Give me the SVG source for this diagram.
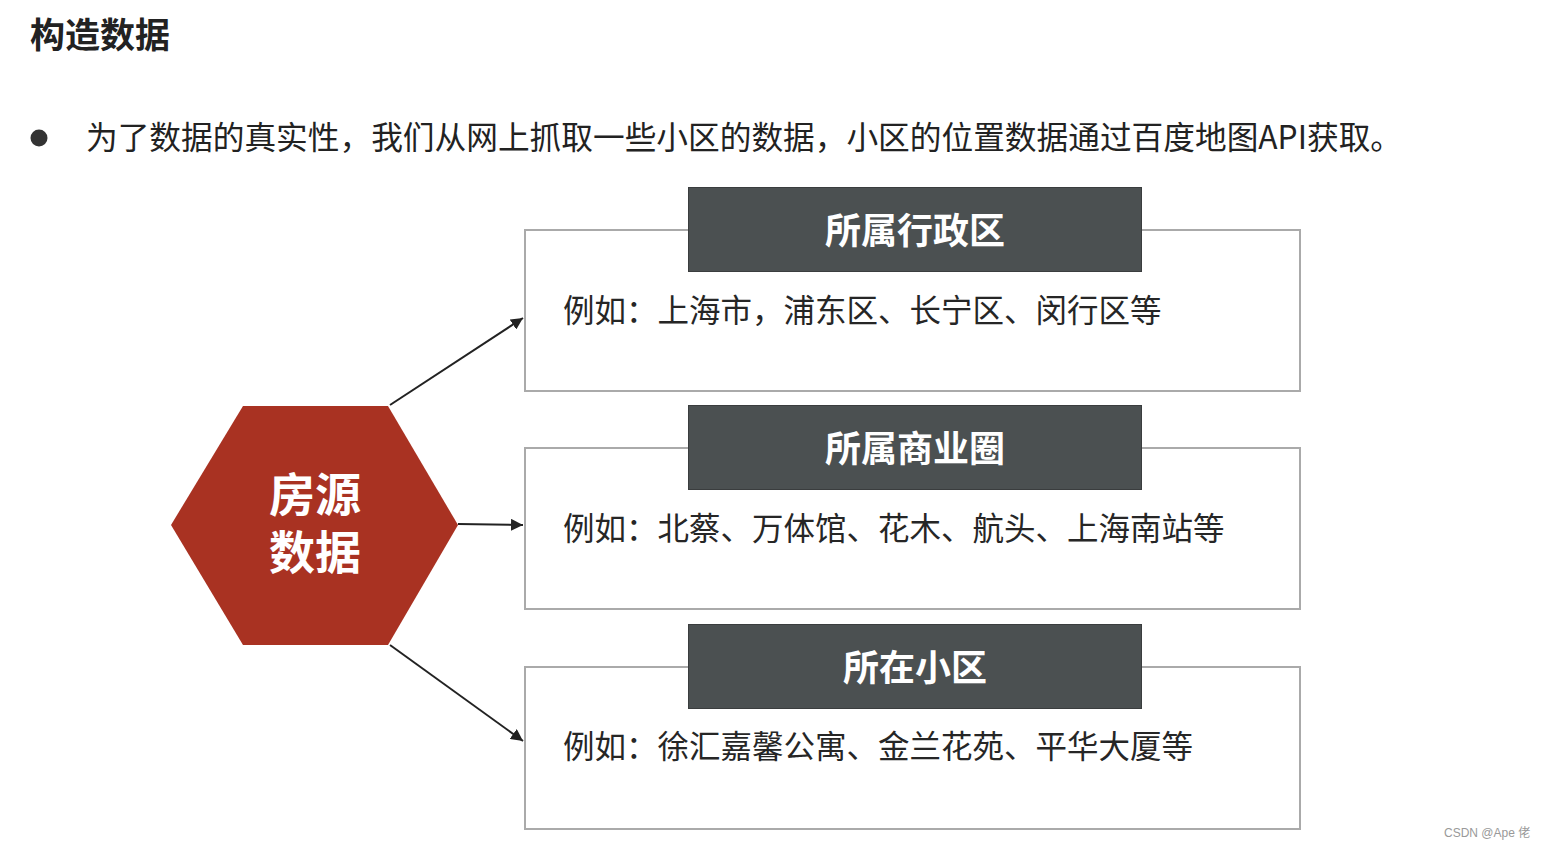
<svg xmlns="http://www.w3.org/2000/svg" width="1545" height="849" viewBox="0 0 1545 849">
<style>
.cjk{font-family:"Noto Sans CJK SC","Noto Sans",sans-serif}
.title{font-size:35px;font-weight:bold;fill:#222}
.bullet{font-size:32px;fill:#222}
.box{fill:#fff;stroke:#aaaaaa;stroke-width:2}
.hdr{fill:#4b5051;stroke:#3a3d3e;stroke-width:1}
.hdrt{font-size:36px;font-weight:bold;fill:#fff;text-anchor:middle}
.body{font-size:31.5px;fill:#262626}
.hext{font-size:46px;font-weight:bold;fill:#fff;text-anchor:middle}
.conn{stroke:#222;stroke-width:2;fill:none;marker-end:url(#arr)}
</style>
<defs>
<marker id="arr" viewBox="0 0 10 10" refX="10" refY="5" markerWidth="6" markerHeight="6" orient="auto" markerUnits="strokeWidth">
<path d="M0,0 L10,5 L0,10 z" fill="#222"/>
</marker>
</defs>
<rect width="1545" height="849" fill="#fff"/>
<g id="heading">
<text class="cjk title" x="30" y="48">构造数据</text>
<circle cx="39" cy="138" r="8.5" fill="#333"/>
<text class="cjk bullet" x="86" y="149" textLength="1316" lengthAdjust="spacingAndGlyphs">为了数据的真实性，我们从网上抓取一些小区的数据，小区的位置数据通过百度地图API获取。</text>
</g>
<g id="connectors">
<line class="conn" x1="390" y1="405" x2="523" y2="318"/>
<line class="conn" x1="458" y1="524" x2="523" y2="525"/>
<line class="conn" x1="390" y1="645" x2="523" y2="741"/>
</g>
<g id="hex">
<polygon points="243,406 388,406 458,525 388,645 243,645 171,525" fill="#a93222"/>
<text class="cjk hext" x="315" y="511">房源<tspan x="315" dy="58">数据</tspan></text>
</g>
<g id="district">
<rect class="box" x="525" y="230" width="775" height="161"/>
<rect class="hdr" x="688.5" y="187.5" width="453" height="84"/>
<text class="cjk hdrt" x="915" y="244">所属行政区</text>
<text class="cjk body" x="563" y="322">例如：上海市，浦东区、长宁区、闵行区等</text>
</g>
<g id="business">
<rect class="box" x="525" y="448" width="775" height="161"/>
<rect class="hdr" x="688.5" y="405.5" width="453" height="84"/>
<text class="cjk hdrt" x="915" y="462">所属商业圈</text>
<text class="cjk body" x="563" y="540">例如：北蔡、万体馆、花木、航头、上海南站等</text>
</g>
<g id="community">
<rect class="box" x="525" y="667" width="775" height="162"/>
<rect class="hdr" x="688.5" y="624.5" width="453" height="84"/>
<text class="cjk hdrt" x="915" y="681">所在小区</text>
<text class="cjk body" x="563" y="758">例如：徐汇嘉馨公寓、金兰花苑、平华大厦等</text>
</g>
<text x="1444" y="837" font-family="Liberation Sans, sans-serif" font-size="12" fill="#999">CSDN @Ape <tspan font-family="Noto Sans CJK SC, sans-serif">佬</tspan></text>
</svg>
